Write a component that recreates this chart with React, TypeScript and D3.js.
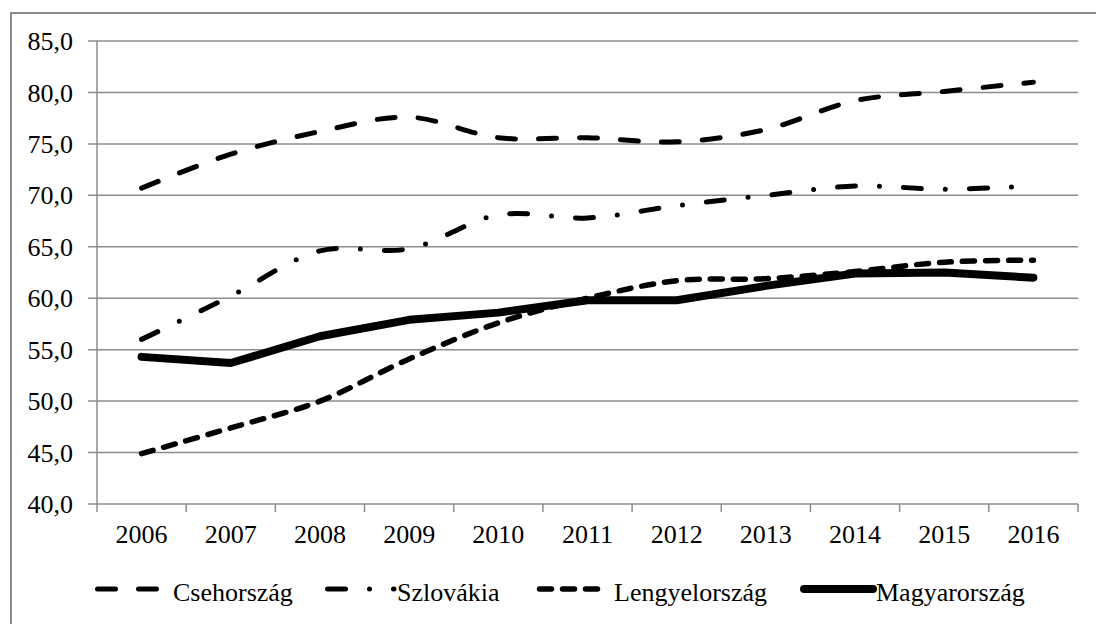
import React from "react";
import * as d3 from "d3";

const years = ["2006", "2007", "2008", "2009", "2010", "2011", "2012", "2013", "2014", "2015", "2016"];
const csehorszag = [70.7, 74.0, 76.2, 77.6, 75.6, 75.6, 75.2, 76.4, 79.2, 80.1, 81.0];
const szlovakia = [56.0, 60.2, 64.6, 64.8, 68.1, 67.8, 69.0, 70.0, 70.9, 70.6, 70.9];
const lengyelorszag = [44.9, 47.4, 50.0, 54.1, 57.6, 60.0, 61.7, 61.9, 62.6, 63.5, 63.7];
const magyarorszag = [54.3, 53.7, 56.3, 57.9, 58.6, 59.8, 59.8, 61.2, 62.4, 62.5, 62.0];
const yTicks = [40, 45, 50, 55, 60, 65, 70, 75, 80, 85];

const series = [
  { name: "Csehország", values: csehorszag, dash: "18 23", width: 5, smooth: true },
  { name: "Szlovákia", values: szlovakia, dash: "18 24 0 24", width: 5, smooth: true },
  { name: "Lengyelország", values: lengyelorszag, dash: "12 11", width: 5.5, smooth: true },
  { name: "Magyarország", values: magyarorszag, dash: null, width: 8, smooth: false },
];

const legendPos = [
  { x1: 97.5, x2: 157.5, tx: 173 },
  { x1: 327.5, x2: 394, tx: 397 },
  { x1: 539.5, x2: 600.5, tx: 614 },
  { x1: 804, x2: 873, tx: 876 },
];

export default function App() {
  const W = 1096, H = 624;
  const left = 97, right = 1078, top = 41, bottom = 504;
  const x = d3.scaleBand<string>().domain(years).range([left, right]);
  const y = d3.scaleLinear().domain([40, 85]).range([bottom, top]);
  const grid = "#8c8c8c";
  const txt: React.CSSProperties = { fontFamily: "'Liberation Serif', 'Times New Roman', serif", fontSize: "26px", fill: "#000" };

  return (
    <svg width={W} height={H} viewBox={`0 0 ${W} ${H}`} style={{ position: "absolute", left: 0, top: 0, display: "block" }}>
      <rect x={0} y={0} width={W} height={H} fill="#fff" />
      <line x1={11} x2={11} y1={12} y2={H} stroke="#8c8c8c" strokeWidth={2} />
      <line x1={10} x2={W} y1={13} y2={13} stroke="#8c8c8c" strokeWidth={2} />
      {yTicks.map((t) => (
        <g key={t}>
          <line x1={left - 9} x2={right} y1={y(t)} y2={y(t)} stroke={grid} strokeWidth={1.5} />
          <text x={73} y={y(t)} dy="0.35em" textAnchor="end" style={txt}>
            {t.toFixed(1).replace(".", ",")}
          </text>
        </g>
      ))}
      <line x1={left} x2={left} y1={top} y2={bottom} stroke={grid} strokeWidth={1.5} />
      {years.map((yr) => (
        <line key={"t" + yr} x1={x(yr)!} x2={x(yr)!} y1={bottom} y2={bottom + 8} stroke={grid} strokeWidth={1.5} />
      ))}
      <line x1={right} x2={right} y1={bottom} y2={bottom + 8} stroke={grid} strokeWidth={1.5} />
      {years.map((yr) => (
        <text key={yr} x={x(yr)! + x.bandwidth() / 2} y={543} textAnchor="middle" style={txt}>
          {yr}
        </text>
      ))}
      {series.map((s) => {
        const line = d3
          .line<number>()
          .x((_, i) => x(years[i])! + x.bandwidth() / 2)
          .y((v) => y(v))
          .curve(s.smooth ? d3.curveCatmullRom.alpha(0.5) : d3.curveLinear);
        return (
          <path
            key={s.name}
            d={line(s.values)!}
            fill="none"
            stroke="#000"
            strokeWidth={s.width}
            strokeDasharray={s.dash ?? undefined}
            strokeLinecap="round"
            strokeLinejoin="round"
          />
        );
      })}
      {series.map((s, i) => {
        const p = legendPos[i];
        return (
          <g key={"lg" + s.name}>
            <line
              x1={p.x1}
              x2={p.x2}
              y1={589}
              y2={589}
              stroke="#000"
              strokeWidth={s.width}
              strokeDasharray={s.dash ?? undefined}
              strokeLinecap="round"
            />
            <text x={p.tx} y={601} style={txt}>
              {s.name}
            </text>
          </g>
        );
      })}
    </svg>
  );
}
